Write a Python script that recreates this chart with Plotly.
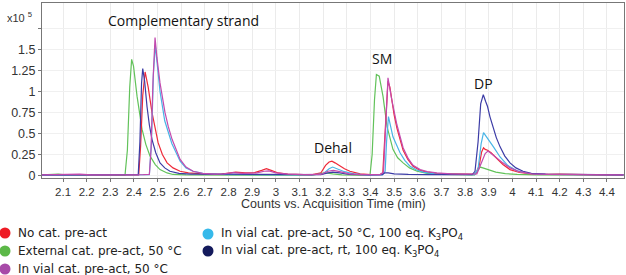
import plotly.graph_objects as go

# ---- data (intensity in units of 1e5 counts, time in min) ----
red_pts = [(2.01,0.004),(2.06,0.006),(2.12,0.004),(2.16,0.012),(2.2,0.008),(2.26,0.005),(2.32,0.006),(2.38,0.004),(2.42,0.006),(2.428,0.35),(2.437,0.95),(2.447,1.23),(2.46,1.05),(2.476,0.75),(2.49,0.55),(2.502,0.39),(2.52,0.25),(2.54,0.15),(2.565,0.09),(2.595,0.05),(2.63,0.03),(2.67,0.02),(2.72,0.012),(2.77,0.015),(2.8,0.03),(2.83,0.04),(2.87,0.03),(2.91,0.035),(2.94,0.06),(2.96,0.08),(2.98,0.06),(3.01,0.03),(3.05,0.015),(3.1,0.01),(3.15,0.008),(3.19,0.03),(3.21,0.12),(3.225,0.16),(3.237,0.17),(3.25,0.15),(3.271,0.11),(3.29,0.08),(3.313,0.05),(3.356,0.02),(3.4,0.01),(3.44,0.01),(3.452,0.03),(3.462,0.5),(3.474,1.12),(3.482,1.05),(3.49,0.88),(3.5,0.72),(3.512,0.56),(3.525,0.42),(3.538,0.3),(3.558,0.19),(3.58,0.11),(3.61,0.06),(3.64,0.04),(3.68,0.025),(3.73,0.02),(3.78,0.018),(3.82,0.015),(3.845,0.02),(3.86,0.12),(3.87,0.28),(3.878,0.33),(3.885,0.31),(3.895,0.3),(3.91,0.27),(3.93,0.21),(3.96,0.13),(3.99,0.07),(4.03,0.035),(4.08,0.018),(4.14,0.012),(4.2,0.015),(4.26,0.01),(4.32,0.012),(4.38,0.008),(4.44,0.01),(4.47,0.006)]
green_pts = [(2.01,0.006),(2.05,0.01),(2.08,0.015),(2.11,0.006),(2.18,0.005),(2.25,0.006),(2.32,0.004),(2.362,0.005),(2.372,0.3),(2.382,1.05),(2.39,1.38),(2.398,1.3),(2.413,0.94),(2.434,0.55),(2.45,0.37),(2.468,0.23),(2.49,0.13),(2.51,0.07),(2.54,0.03),(2.565,0.012),(2.62,0.006),(2.7,0.004),(2.8,0.006),(2.9,0.005),(3.0,0.004),(3.1,0.005),(3.16,0.008),(3.19,0.025),(3.21,0.03),(3.24,0.018),(3.28,0.008),(3.35,0.005),(3.398,0.006),(3.407,0.25),(3.417,0.9),(3.425,1.2),(3.437,1.18),(3.453,0.94),(3.47,0.58),(3.495,0.31),(3.515,0.21),(3.538,0.15),(3.565,0.09),(3.597,0.05),(3.64,0.025),(3.7,0.012),(3.78,0.008),(3.84,0.008),(3.852,0.05),(3.863,0.1),(3.875,0.09),(3.9,0.065),(3.93,0.04),(3.97,0.022),(4.02,0.012),(4.1,0.008),(4.2,0.006),(4.3,0.007),(4.47,0.005)]
magenta_pts = [(2.01,0.006),(2.08,0.008),(2.14,0.018),(2.17,0.015),(2.22,0.008),(2.3,0.006),(2.38,0.008),(2.44,0.01),(2.465,0.012),(2.472,0.3),(2.48,1.1),(2.489,1.64),(2.497,1.4),(2.51,1.1),(2.531,0.75),(2.545,0.58),(2.561,0.43),(2.578,0.3),(2.595,0.19),(2.62,0.1),(2.65,0.05),(2.69,0.025),(2.74,0.015),(2.78,0.02),(2.82,0.035),(2.86,0.025),(2.92,0.03),(2.95,0.05),(2.97,0.055),(3.0,0.03),(3.05,0.015),(3.12,0.01),(3.19,0.012),(3.22,0.05),(3.243,0.06),(3.27,0.045),(3.31,0.02),(3.36,0.01),(3.44,0.01),(3.455,0.04),(3.465,0.6),(3.474,1.16),(3.49,0.9),(3.512,0.6),(3.538,0.33),(3.56,0.2),(3.58,0.12),(3.61,0.07),(3.64,0.045),(3.68,0.03),(3.74,0.02),(3.8,0.015),(3.85,0.02),(3.87,0.15),(3.885,0.26),(3.897,0.29),(3.91,0.26),(3.93,0.22),(3.96,0.15),(3.99,0.09),(4.03,0.045),(4.08,0.02),(4.15,0.012),(4.25,0.01),(4.35,0.012),(4.47,0.008)]
lightblue_pts = [(2.01,0.005),(2.1,0.006),(2.2,0.005),(2.3,0.005),(2.4,0.006),(2.465,0.01),(2.474,0.4),(2.482,1.2),(2.49,1.55),(2.498,1.35),(2.51,1.0),(2.53,0.65),(2.56,0.38),(2.595,0.17),(2.62,0.09),(2.65,0.05),(2.7,0.02),(2.75,0.012),(2.85,0.01),(2.95,0.012),(3.05,0.008),(3.15,0.006),(3.2,0.02),(3.225,0.08),(3.24,0.1),(3.26,0.08),(3.29,0.045),(3.33,0.02),(3.38,0.008),(3.45,0.008),(3.462,0.05),(3.468,0.4),(3.476,0.7),(3.495,0.46),(3.51,0.36),(3.525,0.27),(3.545,0.18),(3.567,0.11),(3.595,0.065),(3.622,0.04),(3.67,0.02),(3.75,0.012),(3.84,0.01),(3.855,0.08),(3.868,0.38),(3.878,0.51),(3.888,0.47),(3.9,0.43),(3.92,0.34),(3.948,0.22),(3.98,0.12),(4.02,0.055),(4.07,0.025),(4.14,0.012),(4.25,0.01),(4.35,0.01),(4.47,0.006)]
navy_pts = [(2.01,0.006),(2.1,0.005),(2.2,0.008),(2.3,0.006),(2.38,0.008),(2.418,0.01),(2.425,0.4),(2.432,1.1),(2.437,1.27),(2.445,1.12),(2.455,0.82),(2.465,0.6),(2.476,0.43),(2.492,0.27),(2.51,0.15),(2.53,0.09),(2.552,0.05),(2.59,0.025),(2.64,0.015),(2.7,0.012),(2.8,0.015),(2.9,0.012),(3.0,0.01),(3.1,0.008),(3.19,0.01),(3.22,0.03),(3.24,0.04),(3.27,0.03),(3.31,0.012),(3.4,0.008),(3.45,0.01),(3.46,0.03),(3.475,0.03),(3.5,0.02),(3.56,0.012),(3.65,0.01),(3.75,0.012),(3.83,0.01),(3.842,0.05),(3.855,0.4),(3.866,0.85),(3.877,0.96),(3.887,0.88),(3.895,0.82),(3.905,0.7),(3.918,0.58),(3.932,0.45),(3.948,0.34),(3.968,0.23),(3.99,0.15),(4.015,0.09),(4.045,0.05),(4.08,0.025),(4.14,0.015),(4.22,0.012),(4.3,0.01),(4.38,0.012),(4.47,0.008)]

series_names = ["No cat. pre-act",
                "External cat. pre-act, 50 \u00b0C",
                "In vial cat. pre-act, 50 \u00b0C",
                "In vial cat. pre-act, 50 \u00b0C, 100 eq. K<sub>3</sub>PO<sub>4</sub>",
                "In vial cat. pre-act, rt, 100 eq. K<sub>3</sub>PO<sub>4</sub>"]
series_pts = [red_pts, green_pts, magenta_pts, lightblue_pts, navy_pts]
line_colors = ["#ee2a3a", "#62c25a", "#c24aae", "#48b4e6", "#3c3ca6"]
legend_colors = ["#ee1c25", "#5cb848", "#a74aa8", "#36b9ea", "#141a5c"]
draw_order = [1, 0, 3, 4, 2]

x_ticks = [2.1, 2.2, 2.3, 2.4, 2.5, 2.6, 2.7, 2.8, 2.9, 3.0, 3.1, 3.2, 3.3, 3.4, 3.5, 3.6, 3.7, 3.8, 3.9, 4.0, 4.1, 4.2, 4.3, 4.4]
x_ticktext = ["2.1", "2.2", "2.3", "2.4", "2.5", "2.6", "2.7", "2.8", "2.9", "3", "3.1", "3.2", "3.3", "3.4", "3.5", "3.6", "3.7", "3.8", "3.9", "4", "4.1", "4.2", "4.3", "4.4"]
y_ticks = [0, 0.25, 0.5, 0.75, 1.0, 1.25, 1.5, 1.75]
y_ticktext = ["0", "0.25", "0.5", "0.75", "1", "1.25", "1.5", ""]

peak_labels = ["Complementary strand", "SM", "DP", "Dehal"]

# ---- layout geometry (pixels) ----
W, H = 626, 275
ML, MR, MT, MB = 42, 2, 3, 97
PW, PH = W - ML - MR, H - MT - MB


def px_x(px):
    return (px - ML) / PW


def px_y(py):
    return (H - MB - py) / PH


fig = go.Figure()
for i in draw_order:
    t, y = zip(*series_pts[i])
    fig.add_trace(go.Scatter(x=list(t), y=list(y), mode="lines",
                             line=dict(color=line_colors[i], width=1.2),
                             showlegend=False, hoverinfo="skip"))

axis_family = "Liberation Sans, Arial, sans-serif"
fig.update_layout(
    width=W, height=H,
    margin=dict(l=ML, r=MR, t=MT, b=MB, autoexpand=False),
    paper_bgcolor="white", plot_bgcolor="white",
    showlegend=False,
    xaxis=dict(range=[2.011, 4.472], tickvals=x_ticks, ticktext=x_ticktext,
               showgrid=True, gridcolor="#ebebeb", gridwidth=1,
               showline=True, linecolor="#777", linewidth=1, mirror=True,
               ticks="outside", ticklen=3, tickcolor="#777",
               tickfont=dict(family=axis_family, size=11.5, color="#333"), zeroline=False),
    yaxis=dict(range=[-0.03, 2.05], tickvals=y_ticks, ticktext=y_ticktext,
               showgrid=True, gridcolor="#f0f0f0", gridwidth=1,
               showline=True, linecolor="#777", linewidth=1, mirror=True,
               ticks="outside", ticklen=3, tickcolor="#777",
               tickfont=dict(family=axis_family, size=12.5, color="#333"),
               zeroline=False),
)

# x axis title
fig.add_annotation(text="Counts vs. Acquisition Time (min)", x=0.5, y=px_y(204),
                   xref="paper", yref="paper", showarrow=False,
                   xanchor="center", yanchor="middle",
                   font=dict(family=axis_family, size=12.5, color="#333"))

# peak labels
label_font = dict(family="Open Sans, sans-serif", size=14, color="#111")
label_px = [(183, 20), (382, 59), (483, 83), (333, 147)]
for txt, (lx, ly) in zip(peak_labels, label_px):
    fig.add_annotation(text=txt, x=px_x(lx), y=px_y(ly), xref="paper", yref="paper",
                       showarrow=False, xanchor="center", yanchor="middle", font=label_font)

# exponent label
fig.add_annotation(text="x10 <sup>5</sup>", x=px_x(5), y=px_y(17), xref="paper", yref="paper",
                   showarrow=False, xanchor="left", yanchor="middle",
                   font=dict(family=axis_family, size=11, color="#333"))

# legend (two columns below the plot)
legend_px = [(5, 233), (5, 251), (5, 269), (208, 234), (208, 251)]
R = 5.5
for i, (cx, cy) in enumerate(legend_px):
    fig.add_shape(type="circle", xref="paper", yref="paper",
                  x0=px_x(cx - R), x1=px_x(cx + R), y0=px_y(cy + R), y1=px_y(cy - R),
                  fillcolor=legend_colors[i], line=dict(width=0))
    fig.add_annotation(text=series_names[i], x=px_x(cx + 11), y=px_y(cy),
                       xref="paper", yref="paper", showarrow=False,
                       xanchor="left", yanchor="middle",
                       font=dict(family="DejaVu Sans, Verdana, sans-serif", size=12, color="#222"))

fig.write_html("out.html",
               config={"displayModeBar": False, "staticPlot": True},
               post_script="document.body.style.margin='0';document.body.style.padding='0';")
